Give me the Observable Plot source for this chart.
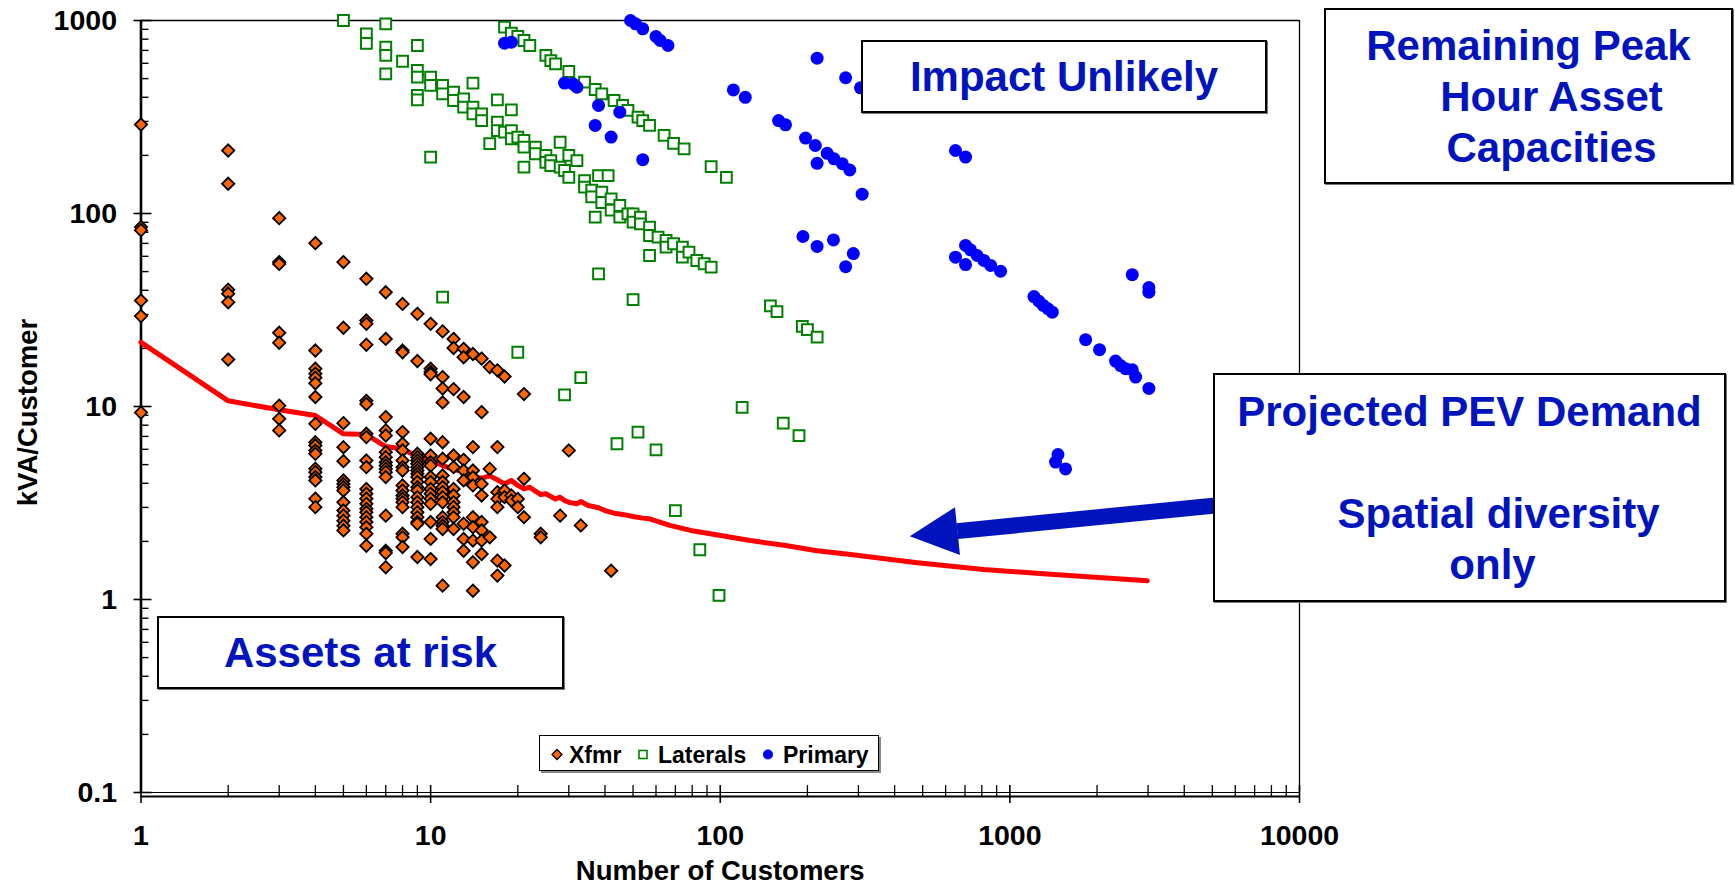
<!DOCTYPE html>
<html>
<head>
<meta charset="utf-8">
<script src="https://cdn.jsdelivr.net/npm/d3@7"></script>
<script src="https://cdn.jsdelivr.net/npm/@observablehq/plot@0.6"></script>
<style>
html, body { margin: 0; padding: 0; background: #fff; }
#wrap { position: relative; width: 1735px; height: 887px; overflow: hidden; font-family: "Liberation Sans", Arial, sans-serif; }
.box { position: absolute; box-sizing: border-box; background: #fff; border: 2px solid #000; box-shadow: 1px 1px 0 #777;
  color: #0014BE; font-weight: bold; font-size: 42px; line-height: 51px; white-space: pre;
  display: flex; flex-direction: column; justify-content: center; align-items: center; }
.box div { position: relative; }
#legend { position: absolute; left: 539px; top: 735px; width: 340px; height: 36px; box-sizing: border-box;
  border: 1px solid #000; box-shadow: 2px 2px 0 #888; background: #fff; }
</style>
</head>
<body>
<div id="wrap">
  <div class="box" style="left:861px;top:40px;width:406px;height:73px;">Impact Unlikely</div>
  <div class="box" style="left:157px;top:616px;width:407px;height:73px;">Assets at risk</div>
  <div class="box" style="left:1324px;top:8px;width:409px;height:176px;"><div>Remaining Peak</div><div style="left:23px">Hour Asset</div><div style="left:23px">Capacities</div></div>
  <div class="box" style="left:1213px;top:373px;width:513px;height:229px;"><div>Projected PEV Demand</div><div> </div><div style="left:29px">Spatial diversity</div><div style="left:23px">only</div></div>
  <div id="legend">
    <svg width="340" height="36" style="position:absolute;left:0;top:0;overflow:visible" font-family="Liberation Sans, Arial, sans-serif" font-weight="bold" font-size="23">
      <path d="M17,13.5 L22,18.5 L17,23.5 L12,18.5 Z" fill="#FF6600" stroke="#000" stroke-width="1.3"/>
      <text x="29" y="26.5" fill="#000">Xfmr</text>
      <rect x="99" y="14.5" width="8" height="8" fill="#fff" stroke="#008000" stroke-width="1.6"/>
      <text x="118" y="26.5" fill="#000">Laterals</text>
      <circle cx="228" cy="18.5" r="5" fill="#0000FF"/>
      <text x="243" y="26.5" fill="#000">Primary</text>
    </svg>
  </div>
</div>
<script>
// ---------------- data ----------------
// Xfmr: [number of customers, kVA/customer values at that customer count]
const xfmrColumns = [
  [1, [289, 85, 82, 35.4, 29.4, 9.3]],
  [2, [212, 142.6, 40.3, 38.4, 34.7, 17.5]],
  [3, [94.6, 56, 54.8, 24.1, 21.4, 10.1, 8.63, 7.52]],
  [4, [70.2, 19.5, 15.7, 14.8, 14.1, 13.2, 11.2, 8.13, 6.53, 6.28, 5.92, 5.69, 4.76, 4.57, 4.31, 4.14, 3.33, 3.01]],
  [5, [56, 25.6, 8.2, 6.15, 5.21, 4.14, 3.97, 3.82, 3.67, 3.19, 2.89, 2.72, 2.56, 2.41, 2.28]],
  [6, [45.9, 27.9, 26.8, 20.9, 10.7, 10.3, 7.22, 6.94, 5.25, 4.85, 3.74, 3.53, 3.33, 3.13, 2.95, 2.83, 2.67, 2.52, 2.37, 2.19, 1.9]],
  [7, [39.1, 22.4, 8.81, 7.52, 7.08, 5.8, 5.46, 5.14, 4.94, 4.75, 4.57, 4.31, 2.72, 1.79, 1.74, 1.47]],
  [8, [34, 19.5, 19.1, 7.37, 6.41, 5.92, 5.25, 4.85, 4.66, 3.9, 3.67, 3.46, 3.33, 3.19, 3.01, 2.19, 2.1, 1.87]],
  [9, [30.2, 17.2, 5.69, 5.46, 5.25, 5.05, 4.85, 4.66, 4.48, 4.31, 4.06, 3.82, 3.67, 3.39, 3.19, 3.01, 2.83, 2.67, 2.52, 2.47, 1.66]],
  [10, [26.8, 15.7, 15.1, 14.7, 6.81, 5.57, 5.14, 4.94, 4.31, 4.06, 3.74, 3.53, 3.33, 3.13, 2.52, 2.06, 1.62]],
  [11, [24.5, 14.2, 12.4, 10.5, 6.53, 5.36, 4.39, 4.06, 3.82, 3.6, 3.39, 3.19, 2.67, 2.52, 2.41, 2.32, 1.18]],
  [12, [22.4, 20.1, 12.3, 5.57, 4.85, 3.74, 3.46, 3.19, 3.01, 2.83, 2.67, 2.32]],
  [13, [19.9, 18, 11.2, 5.29, 4.66, 4.14, 2.47, 2.06, 1.79]],
  [14, [18.7, 6.16, 4.66, 4.3, 3.9, 2.67, 2.37, 2.02, 1.56, 1.11]],
  [15, [17.7, 9.35, 3.97, 3.46, 2.52, 2.28, 2.02, 1.72]],
  [16, [16, 4.75, 2.1]],
  [17, [15.4, 6.16, 3.6, 3.32, 3.01, 1.59, 1.33]],
  [18, [14.3, 3.67, 3.39, 1.5]],
  [19, [3.46, 3.26]],
  [20, [3.32, 3.01]],
  [21, [11.6, 4.22, 2.67]],
  [24, [2.19, 2.1]],
  [28, [2.72]],
  [30, [5.92]],
  [33, [2.42]],
  [42, [1.41]]
];

// Laterals: [customers, kVA/customer]
const laterals = [
  [5,1000],[6,853],[6,762],[7,961],[7,728],[7,659],[7,529],[8,615],
  [9,742],[9,551],[9,509],[9,409],[9,388],[10,509],[10,461],[11,461],[11,417],[12,425],[12,385],
  [13,393],[13,356],[14,474],[14,356],[14,328],[15,328],[15,303],[16,230],[17,388],[17,297],[17,269],
  [18,264],[19,344],[19,269],[19,244],[20,249],[21,239],[21,221],[21,174],[23,221],[23,204],
  [25,200],[25,184],[26,188],[26,177],[28,234],[28,174],[29,167],[30,200],[30,154],[32,188],
  [34,148],[34,137],[36,132],[36,122],[38,157],[41,157],[39,129],[39,114],[42,119],[42,104],
  [45,110],[45,95.7],[48,99.6],[50,99.6],[50,90.2],[53,95.7],[53,88.4],[57,85],[57,76.9],[57,60.6],
  [61,75.4],[65,72.5],[65,66.9],[69,69.7],[74,66.9],[74,59.4],[78,63.1],[83,57.1],[88,54.9],[93,52.7],
  [10,196],[37,95.7],[38,48.7],
  [18,923],[19,860],[20,826],[21,788],[22,742],[25,659],[26,620],[27,596],[30,544],[34,479],
  [37,439],[39,417],[43,385],[46,363],[48,342],[52,316],[54,303],[57,286],[64,254],[69,231],
  [75,216],[93,175],[105,154],
  [149,33.2],[157,31],[192,26],[200,25],[216,22.9],[119,9.9],[165,8.2],[187,7.07],[60,5.96],
  [44,6.41],[52,7.36],[70,2.89],[85,1.81],[99,1.05],[29,11.5],[33,14.1],[20,19.1],[11,36.9],[50,35.8]
];

// Primary: [customers, kVA/customer]
const primary = [
  [49,1000],[51,961],[54,905],[60,826],[62,788],[66,742],[18,763],[19,772],[29,474],[31,470],[32,451],
  [38,363],[45,335],[37,286],[42,249],[54,190],[216,638],[271,505],[305,448],[111,437],[122,400],
  [159,303],[168,288],[197,246],[213,225],[234,205],[247,192],[216,182],[264,181],[280,168],[309,126],
  [193,76],[216,67.5],[246,73],[288,62],[271,53],[649,212],[703,196],[649,59.4],[703,54.4],
  [703,68.3],[731,64.8],[771,60.6],[813,57.1],[858,53.8],[929,50.2],[2646,48.2],[3020,41.3],[3020,39.1],
  [1211,37.1],[1260,35.1],[1304,33.4],[1353,32.1],[1401,30.8],[1826,22.2],[2040,19.7],[2317,17.2],
  [2412,16.3],[2509,15.7],[2646,15.5],[2718,14.2],[3020,12.4],[1438,5.15],[1466,5.64],[1557,4.75]
];

// Projected PEV demand (spatial diversity only)
const pevCustomers = [1,2,3,4,5,6,7,8,9,10,11,12,13,14,15,16,17,18,19,20,21,22,23,24,25,26,27,28,29,30,
  32,33,35,38,40,43,46,50,54,57,67,79,98,127,166,216,282,479,813,1382,2981];
const pevKva = [21.5,10.7,9.61,8.98,7.22,7.16,6.2,6.03,5.51,5.29,4.95,4.7,4.62,4.34,4.25,4.37,4.17,3.97,4.14,3.9,
  3.74,3.82,3.64,3.5,3.53,3.42,3.32,3.39,3.26,3.19,3.13,3.22,3.07,2.99,2.89,2.8,2.76,2.69,2.64,2.62,
  2.42,2.28,2.16,2.02,1.91,1.79,1.71,1.55,1.43,1.35,1.25];

// Annotation arrow (data coordinates)
const arrowTail = {customers: 6260, kva: 3.16};
const arrowBase = {customers: 658, kva: 2.26};

// Axis ticks / labels
const xTickLabels = [1, 10, 100, 1000, 10000];
const yTickLabels = [0.1, 1, 10, 100, 1000];
const minorMultipliers = [2, 3, 4, 5, 6, 7, 8, 9];
const xDecades = [1, 10, 100, 1000];
const yDecades = [0.1, 1, 10, 100];
const xMinorTicks = xDecades.flatMap(d => minorMultipliers.map(m => d * m));
const yMinorTicks = yDecades.flatMap(d => minorMultipliers.map(m => +(d * m).toPrecision(3)));

// ---------------- marks ----------------
const xfmr = xfmrColumns.flatMap(([c, ys]) => ys.map(v => ({customers: c, kva: v})));
const lat = laterals.map(([c, v]) => ({customers: c, kva: v}));
const prim = primary.map(([c, v]) => ({customers: c, kva: v}));
const pev = pevCustomers.map((c, i) => ({customers: c, kva: pevKva[i]}));

const diamondSym = {draw(ctx, size) { const r = Math.sqrt(size / Math.PI) * 1.1;
  ctx.moveTo(0, -r); ctx.lineTo(r, 0); ctx.lineTo(0, r); ctx.lineTo(-r, 0); ctx.closePath(); }};
const arrowHeadSym = {draw(ctx, size) { const r = Math.sqrt(size / Math.PI);
  ctx.moveTo(0, 0); ctx.lineTo(2 * r, -r); ctx.lineTo(2 * r, r); ctx.closePath(); }};

const BLUE = "#0014BE";
const chart = Plot.plot({
  width: 1735, height: 887,
  marginLeft: 140.5, marginRight: 436, marginTop: 20, marginBottom: 95,
  x: {type: "log", domain: [1, 10000], axis: null},
  y: {type: "log", domain: [0.1, 1000], axis: null},
  style: {background: "transparent", fontFamily: "Liberation Sans, Arial, sans-serif", overflow: "visible"},
  marks: [
    // frame
    Plot.ruleY([1000], {stroke: "#000", strokeWidth: 1.3}),
    Plot.ruleX([10000], {stroke: "#000", strokeWidth: 1.3}),
    Plot.ruleY([0.1], {stroke: "#000", strokeWidth: 1.2}),
    // axes lines
    Plot.ruleY([0.1], {stroke: "#000", strokeWidth: 1.8, dy: 4}),
    Plot.ruleX([1], {stroke: "#000", strokeWidth: 2.6}),
    // ticks
    Plot.ruleY(yMinorTicks, {x1: 1, x2: 1, insetRight: -8, stroke: "#000", strokeWidth: 1.4}),
    Plot.ruleY(yTickLabels, {x1: 1, x2: 1, insetLeft: -7, insetRight: -11, stroke: "#000", strokeWidth: 1.6}),
    Plot.ruleX(xMinorTicks, {y1: 0.1, y2: 0.1, insetTop: -7, insetBottom: -4, stroke: "#000", strokeWidth: 1.3}),
    Plot.ruleX(xTickLabels, {y1: 0.1, y2: 0.1, insetTop: -7, insetBottom: -11, stroke: "#000", strokeWidth: 1.6}),
    // tick labels
    Plot.text(xTickLabels, {x: d => d, frameAnchor: "bottom", lineAnchor: "middle", dy: 43, text: d => String(d), fontSize: 28.5, fontWeight: "bold", fill: "#000"}),
    Plot.text(yTickLabels, {y: d => d, frameAnchor: "left", lineAnchor: "middle", dx: -24, textAnchor: "end", text: d => String(d), fontSize: 28.5, fontWeight: "bold", fill: "#000"}),
    // axis titles
    Plot.text(["Number of Customers"], {frameAnchor: "bottom", lineAnchor: "middle", textAnchor: "middle", dy: 79, fontSize: 27.5, fontWeight: "bold", fill: "#000"}),
    Plot.text(["kVA/Customer"], {frameAnchor: "left", textAnchor: "middle", lineAnchor: "middle", dx: -113, dy: 6, rotate: -90, fontSize: 27.5, fontWeight: "bold", fill: "#000"}),
    // PEV demand line
    Plot.line(pev, {x: "customers", y: "kva", stroke: "#FF0000", strokeWidth: 5, strokeLinejoin: "round", strokeLinecap: "round"}),
    // series
    Plot.dot(lat, {x: "customers", y: "kva", symbol: "square", r: 6.1, fill: "#fff", stroke: "#008000", strokeWidth: 2}),
    Plot.dot(prim, {x: "customers", y: "kva", r: 6.5, fill: "#0000FF", stroke: "none"}),
    Plot.dot(xfmr, {x: "customers", y: "kva", symbol: diamondSym, r: 5.6, fill: "#FF6600", stroke: "#000", strokeWidth: 1.8}),
    // arrow annotation
    Plot.link([{}], {x1: arrowTail.customers, y1: arrowTail.kva, x2: arrowBase.customers, y2: arrowBase.kva, stroke: BLUE, strokeWidth: 16}),
    Plot.dot([arrowBase], {x: "customers", y: "kva", symbol: arrowHeadSym, r: 24, rotate: -6, dx: -47.5, dy: 5, fill: BLUE, stroke: "none"})
  ]
});
chart.style.position = "absolute";
chart.style.left = "0px";
chart.style.top = "0px";
const wrap = document.getElementById("wrap");
wrap.insertBefore(chart, wrap.firstChild);
</script>
</body>
</html>
